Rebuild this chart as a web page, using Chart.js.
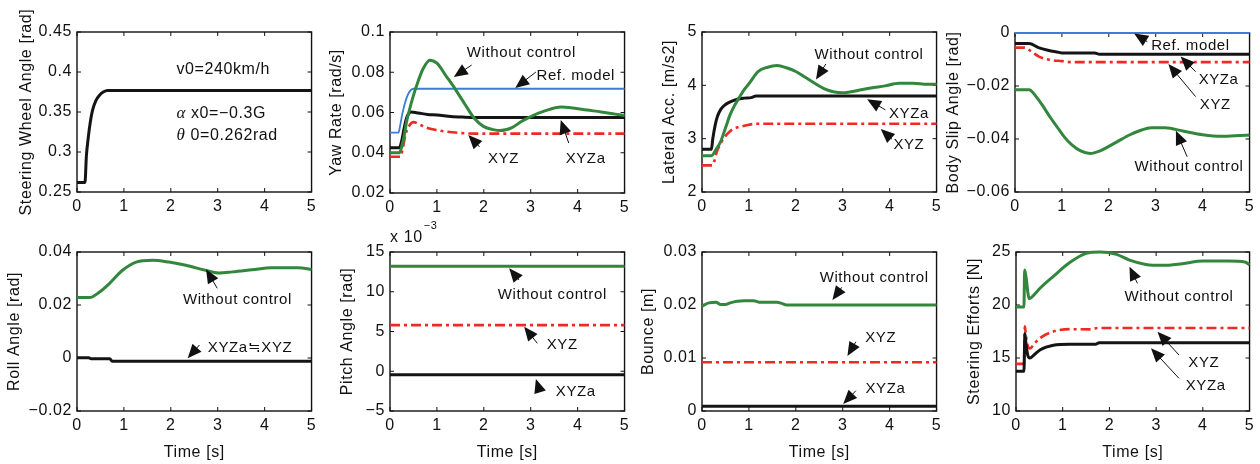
<!DOCTYPE html>
<html>
<head>
<meta charset="utf-8">
<script src="https://cdn.jsdelivr.net/npm/chart.js@4.4.1/dist/chart.umd.min.js"></script>
<style>
  body { margin: 0; background: #fff; width: 1260px; height: 464px; position: relative; overflow: hidden; }
</style>
</head>
<body>
<script>
// ---- data ----
const timeTicks = [0, 1, 2, 3, 4, 5];
const timeLabels = ['0', '1', '2', '3', '4', '5'];

// steering wheel angle [rad]
const swT = [0, 0.17, 0.2, 0.24, 0.28, 0.33, 0.4, 0.48, 0.56, 0.65, 5];
const swAngle = [0.262, 0.262, 0.295, 0.318, 0.336, 0.352, 0.364, 0.371, 0.375, 0.377, 0.377];
const swTicks = [0.25, 0.3, 0.35, 0.4, 0.45];
const swLabels = ['0.25', '0.3', '0.35', '0.4', '0.45'];

// yaw rate [rad/s]
const yawT_wo = [0, 0.2, 0.25, 0.3, 0.35, 0.4, 0.5, 0.6, 0.7, 0.85, 1.0, 1.2, 1.38, 1.6, 1.8, 2.0, 2.2, 2.35, 2.6, 2.8, 3.0, 3.3, 3.65, 3.9, 4.2, 4.5, 4.8, 5.0];
const yaw_wo = [0.040, 0.040, 0.043, 0.048, 0.055, 0.060, 0.0685, 0.0755, 0.0815, 0.0860, 0.0845, 0.078, 0.072, 0.064, 0.057, 0.053, 0.0515, 0.051, 0.0525, 0.0555, 0.058, 0.0608, 0.0627, 0.0622, 0.0612, 0.0603, 0.0592, 0.0585];
const yawT_ref = [0, 0.18, 0.22, 0.26, 0.3, 0.35, 0.42, 0.5, 5];
const yaw_ref = [0.050, 0.050, 0.054, 0.059, 0.063, 0.067, 0.0705, 0.0718, 0.0718];
const yawT_xyza = [0, 0.2, 0.25, 0.3, 0.35, 0.4, 0.45, 0.6, 0.8, 1.0, 1.3, 1.6, 2.0, 5];
const yaw_xyza = [0.0425, 0.0425, 0.046, 0.052, 0.057, 0.0595, 0.0602, 0.0598, 0.059, 0.0588, 0.058, 0.0577, 0.0575, 0.0575];
const yawT_xyz = [0, 0.22, 0.28, 0.33, 0.4, 0.5, 0.65, 0.8, 1.0, 1.2, 1.5, 1.8, 5];
const yaw_xyz = [0.038, 0.038, 0.043, 0.049, 0.053, 0.0552, 0.0538, 0.0523, 0.0512, 0.0505, 0.0498, 0.0495, 0.0495];
const yawTicks = [0.02, 0.04, 0.06, 0.08, 0.1];
const yawLabels = ['0.02', '0.04', '0.06', '0.08', '0.1'];

// lateral acceleration [m/s2]
const latT_wo = [0, 0.2, 0.3, 0.4, 0.5, 0.6, 0.7, 0.8, 0.9, 1.0, 1.2, 1.4, 1.6, 1.8, 2.0, 2.2, 2.4, 2.6, 2.8, 3.0, 3.3, 3.6, 3.9, 4.2, 4.5, 4.8, 5.0];
const lat_wo = [2.68, 2.68, 2.8, 2.95, 3.2, 3.45, 3.63, 3.78, 3.92, 4.03, 4.26, 4.34, 4.37, 4.33, 4.26, 4.15, 4.04, 3.94, 3.88, 3.86, 3.9, 3.95, 3.99, 4.04, 4.04, 4.02, 4.02];
const latT_xyza = [0, 0.2, 0.23, 0.28, 0.33, 0.4, 0.5, 0.6, 0.75, 0.9, 1.05, 1.15, 5];
const lat_xyza = [2.8, 2.8, 3.0, 3.25, 3.42, 3.55, 3.64, 3.69, 3.74, 3.76, 3.77, 3.8, 3.8];
const latT_xyz = [0, 0.22, 0.27, 0.31, 0.38, 0.45, 0.55, 0.66, 0.8, 0.95, 1.15, 5];
const lat_xyz = [2.5, 2.5, 2.6, 2.74, 2.88, 2.99, 3.1, 3.18, 3.22, 3.25, 3.28, 3.28];
const latTicks = [2, 3, 4, 5];
const latLabels = ['2', '3', '4', '5'];

// body slip angle [rad]
const slipT_ref = [0, 5];
const slip_ref = [0, 0];
const slipT_xyza = [0, 0.3, 0.5, 0.7, 0.9, 1.0, 1.7, 1.8, 5];
const slip_xyza = [-0.004, -0.004, -0.0055, -0.0065, -0.0072, -0.0075, -0.0075, -0.008, -0.008];
const slipT_xyz = [0, 0.2, 0.35, 0.5, 0.65, 0.8, 1.0, 1.2, 5];
const slip_xyz = [-0.0055, -0.0055, -0.007, -0.0088, -0.0098, -0.0103, -0.0106, -0.011, -0.011];
const slipT_wo = [0, 0.3, 0.45, 0.6, 0.75, 0.9, 1.05, 1.2, 1.4, 1.6, 1.8, 2.0, 2.2, 2.45, 2.7, 2.9, 3.2, 3.6, 4.0, 4.4, 4.8, 5];
const slip_wo = [-0.0214, -0.0214, -0.024, -0.0277, -0.0318, -0.0355, -0.0392, -0.042, -0.0445, -0.0455, -0.0446, -0.0428, -0.0408, -0.0384, -0.0366, -0.0358, -0.0358, -0.0371, -0.0384, -0.039, -0.0387, -0.0385];
const slipTicks = [-0.06, -0.04, -0.02, 0];
const slipLabels = ['−0.06', '−0.04', '−0.02', '0'];

// roll angle [rad]
const rollT_wo = [0, 0.27, 0.48, 0.69, 0.97, 1.26, 1.61, 1.96, 2.32, 2.74, 3.02, 3.31, 3.73, 4.15, 4.72, 5];
const roll_wo = [0.0228, 0.0228, 0.0249, 0.0281, 0.0331, 0.0362, 0.0369, 0.0362, 0.035, 0.0331, 0.0321, 0.0325, 0.0333, 0.0341, 0.0341, 0.0334];
const rollT_xyz = [0, 0.25, 0.3, 0.7, 0.75, 5];
const roll_xyz = [0.0001, 0.0001, -0.0003, -0.0003, -0.0012, -0.0012];
const rollTicks = [-0.02, 0, 0.02, 0.04];
const rollLabels = ['−0.02', '0', '0.02', '0.04'];

// pitch angle [x1e-3 rad]
const pitchT = [0, 5];
const pitch_wo = [13.2, 13.2];
const pitch_xyz = [5.8, 5.8];
const pitch_xyza = [-0.45, -0.45];
const pitchTicks = [-5, 0, 5, 10, 15];
const pitchLabels = ['−5', '0', '5', '10', '15'];

// bounce [m]
const bounceT_wo = [0, 0.15, 0.3, 0.4, 0.5, 0.6, 0.75, 0.9, 1.1, 1.25, 1.4, 1.6, 1.7, 1.8, 5];
const bounce_wo = [0.0198, 0.0204, 0.0205, 0.0201, 0.0201, 0.0204, 0.0207, 0.0208, 0.0208, 0.0205, 0.0205, 0.0205, 0.0203, 0.0200, 0.0200];
const bounceT = [0, 5];
const bounce_xyz = [0.0092, 0.0092];
const bounce_xyza = [0.0009, 0.0009];
const bounceTicks = [0, 0.01, 0.02, 0.03];
const bounceLabels = ['0', '0.01', '0.02', '0.03'];

// steering efforts [N]
const effT_wo = [0, 0.17, 0.185, 0.2, 0.22, 0.25, 0.28, 0.35, 0.52, 0.8, 1.15, 1.5, 1.8, 2.15, 2.43, 2.78, 3.14, 3.56, 4.0, 4.55, 4.9, 5.0];
const eff_wo = [19.8, 19.8, 23.3, 23.0, 22.5, 21.3, 20.6, 20.8, 21.6, 22.7, 24.0, 24.87, 25.0, 24.78, 24.24, 23.83, 23.74, 23.9, 24.15, 24.15, 24.05, 23.8];
const effT_xyz = [0, 0.17, 0.19, 0.21, 0.25, 0.3, 0.4, 0.52, 0.8, 1.15, 1.6, 1.75, 5];
const eff_xyz = [14.45, 14.45, 18.0, 17.2, 16.2, 15.9, 16.4, 16.9, 17.5, 17.72, 17.7, 17.83, 17.83];
const effT_xyza = [0, 0.17, 0.19, 0.21, 0.25, 0.3, 0.4, 0.52, 0.8, 1.15, 1.7, 1.78, 5];
const eff_xyza = [13.75, 13.75, 17.3, 16.5, 15.3, 15.0, 15.35, 15.78, 16.2, 16.3, 16.3, 16.45, 16.45];
const effTicks = [10, 15, 20, 25];
const effLabels = ['10', '15', '20', '25'];

// ---- styles ----
const GREEN = '#32873d', RED = '#ee2a24', BLUE = '#3a7fd5', BLACK = '#141414';
const DASHDOT = [10, 4, 3, 4];
const green = (t, v) => ({ t, v, color: GREEN, w: 3 });
const black = (t, v) => ({ t, v, color: BLACK, w: 3 });
const red = (t, v) => ({ t, v, color: RED, w: 2.6, dash: DASHDOT });
const blue = (t, v) => ({ t, v, color: BLUE, w: 1.8 });

Chart.defaults.font.family = '"Liberation Sans", Arial, "Noto Sans CJK JP", sans-serif';
Chart.defaults.font.size = 16;
Chart.defaults.color = '#111';

const panels = [
  { row: 0, box: [77, 32, 313, 192], titleX: 27, yTitle: 'Steering Wheel Angle [rad]',
    yTicks: swTicks, yLabels: swLabels,
    series: [black(swT, swAngle)],
    texts: [
      { x: 2.12, y: 0.4025, parts: [['v0=240km/h', '']] },
      { x: 2.12, y: 0.3475, parts: [['α', 'italic '], [' x0=−0.3G', '']] },
      { x: 2.12, y: 0.320, parts: [['θ', 'italic '], [' 0=0.262rad', '']] }
    ], notes: [] },
  { row: 0, box: [390, 32, 626, 193], titleX: 337, yTitle: 'Yaw Rate [rad/s]',
    yTicks: yawTicks, yLabels: yawLabels,
    series: [green(yawT_wo, yaw_wo), black(yawT_xyza, yaw_xyza), red(yawT_xyz, yaw_xyz), blue(yawT_ref, yaw_ref)],
    notes: [
      { text: 'Without control', x: 2.80, y: 0.0896, tail: [1.74, 0.0836], tip: [1.36, 0.0776] },
      { text: 'Ref. model', x: 3.96, y: 0.0781, tail: [3.11, 0.0801], tip: [2.67, 0.0722] },
      { text: 'XYZ', x: 2.42, y: 0.0369, tail: [1.91, 0.0429], tip: [1.67, 0.0488] },
      { text: 'XYZa', x: 4.17, y: 0.0369, tail: [3.81, 0.0448], tip: [3.64, 0.0563] }
    ] },
  { row: 0, box: [702, 32, 938, 192], titleX: 670, yTitle: 'Lateral Acc. [m/s2]',
    yTicks: latTicks, yLabels: latLabels,
    series: [green(latT_wo, lat_wo), black(latT_xyza, lat_xyza), red(latT_xyz, lat_xyz)],
    notes: [
      { text: 'Without control', x: 3.56, y: 4.57, tail: [2.64, 4.40], tip: [2.43, 4.11] },
      { text: 'XYZa', x: 4.41, y: 3.46, tail: [3.91, 3.54], tip: [3.52, 3.74] },
      { text: 'XYZ', x: 4.41, y: 2.89, tail: [4.05, 2.99], tip: [3.81, 3.18] }
    ] },
  { row: 0, box: [1015, 33, 1251, 192], titleX: 954, yTitle: 'Body Slip Angle [rad]',
    yTicks: slipTicks, yLabels: slipLabels,
    series: [green(slipT_wo, slip_wo), black(slipT_xyza, slip_xyza), red(slipT_xyz, slip_xyz), blue(slipT_ref, slip_ref)],
    notes: [
      { text: 'Ref. model', x: 3.74, y: -0.0048, tail: [2.82, -0.0033], tip: [2.54, -0.0002] },
      { text: 'XYZa', x: 4.34, y: -0.0177, tail: [3.85, -0.0146], tip: [3.53, -0.0089] },
      { text: 'XYZ', x: 4.27, y: -0.0272, tail: [3.85, -0.024], tip: [3.27, -0.0117] },
      { text: 'Without control', x: 3.71, y: -0.0505, tail: [3.67, -0.0467], tip: [3.43, -0.0369] }
    ] },
  { row: 1, box: [77, 252, 313, 411], titleX: 15, yTitle: 'Roll Angle [rad]',
    yTicks: rollTicks, yLabels: rollLabels,
    series: [green(rollT_wo, roll_wo), black(rollT_xyz, roll_xyz)],
    notes: [
      { text: 'Without control', x: 3.42, y: 0.0219, tail: [2.99, 0.0263], tip: [2.75, 0.0335] },
      { text: 'XYZa≒XYZ', x: 3.69, y: 0.0037, tail: [2.61, 0.0049], tip: [2.36, -0.0001] }
    ] },
  { row: 1, box: [390, 252, 626, 411], titleX: 348, yTitle: 'Pitch Angle [rad]',
    yTicks: pitchTicks, yLabels: pitchLabels, exponent: '−3',
    series: [green(pitchT, pitch_wo), black(pitchT, pitch_xyza), red(pitchT, pitch_xyz)],
    notes: [
      { text: 'Without control', x: 3.46, y: 9.59, tail: [2.75, 11.48], tip: [2.54, 12.95] },
      { text: 'XYZ', x: 3.67, y: 3.30, tail: [3.14, 3.52], tip: [2.86, 5.6] },
      { text: 'XYZa', x: 3.96, y: -2.6, tail: [3.18, -2.27], tip: [3.11, -0.97] }
    ] },
  { row: 1, box: [702, 252, 938, 411], titleX: 649, yTitle: 'Bounce [m]',
    yTicks: bounceTicks, yLabels: bounceLabels,
    series: [green(bounceT_wo, bounce_wo), black(bounceT, bounce_xyza), red(bounceT, bounce_xyz)],
    notes: [
      { text: 'Without control', x: 3.67, y: 0.02504, tail: [2.98, 0.02334], tip: [2.78, 0.02094] },
      { text: 'XYZ', x: 3.81, y: 0.01371, tail: [3.28, 0.01308], tip: [3.10, 0.01038] },
      { text: 'XYZa', x: 3.91, y: 0.00409, tail: [3.28, 0.00383], tip: [3.01, 0.00132] }
    ] },
  { row: 1, box: [1016, 252, 1251, 411], titleX: 975, yTitle: 'Steering Efforts [N]',
    yTicks: effTicks, yLabels: effLabels,
    series: [green(effT_wo, eff_wo), black(effT_xyza, eff_xyza), red(effT_xyz, eff_xyz)],
    notes: [
      { text: 'Without control', x: 3.49, y: 20.78, tail: [2.60, 22.04], tip: [2.43, 23.62] },
      { text: 'XYZ', x: 4.02, y: 14.5, tail: [3.49, 15.28], tip: [3.03, 17.48] },
      { text: 'XYZa', x: 4.06, y: 12.36, tail: [3.49, 13.08], tip: [2.89, 15.92] }
    ] }
];

const FONT = '"Liberation Sans", Arial, "Noto Sans CJK JP", sans-serif';

function drawArrow(ctx, x1, y1, x2, y2) {
  const a = Math.atan2(y2 - y1, x2 - x1), L = 14, W = 6;
  const c = Math.cos(a), s = Math.sin(a);
  ctx.beginPath();
  ctx.moveTo(x1, y1);
  ctx.lineTo(x2 - L * 0.6 * c, y2 - L * 0.6 * s);
  ctx.stroke();
  ctx.beginPath();
  ctx.moveTo(x2, y2);
  ctx.lineTo(x2 - L * c + W * s, y2 - L * s - W * c);
  ctx.lineTo(x2 - L * c - W * s, y2 - L * s + W * c);
  ctx.closePath();
  ctx.fill();
}

// box and inward ticks under the lines, labels and arrows on top
function framePlugin(p) {
  return {
    id: 'frame',
    beforeDraw(chart) { chart.ctx.letterSpacing = '0.6px'; },
    beforeDatasetsDraw(chart) {
      const { ctx, chartArea: a, scales: { x, y } } = chart;
      ctx.save();
      ctx.strokeStyle = '#111';
      ctx.lineWidth = 1.4;
      ctx.strokeRect(a.left, a.top, a.right - a.left, a.bottom - a.top);
      ctx.lineWidth = 1;
      ctx.beginPath();
      x.ticks.forEach(tk => {
        const px = x.getPixelForValue(tk.value);
        ctx.moveTo(px, a.bottom); ctx.lineTo(px, a.bottom - 4);
        ctx.moveTo(px, a.top); ctx.lineTo(px, a.top + 4);
      });
      y.ticks.forEach(tk => {
        const py = y.getPixelForValue(tk.value);
        ctx.moveTo(a.left, py); ctx.lineTo(a.left + 4, py);
        ctx.moveTo(a.right, py); ctx.lineTo(a.right - 4, py);
      });
      ctx.stroke();
      ctx.restore();
    },
    afterDatasetsDraw(chart) {
      const { ctx, chartArea: a, scales: { x, y } } = chart;
      ctx.save();
      ctx.fillStyle = '#111';
      ctx.strokeStyle = '#111';
      ctx.lineWidth = 1;
      ctx.textBaseline = 'middle';
      ctx.letterSpacing = '0.6px';
      ctx.font = '15px ' + FONT;
      ctx.textAlign = 'center';
      (p.notes || []).forEach(n => {
        ctx.fillText(n.text, x.getPixelForValue(n.x), y.getPixelForValue(n.y));
        drawArrow(ctx, x.getPixelForValue(n.tail[0]), y.getPixelForValue(n.tail[1]),
          x.getPixelForValue(n.tip[0]), y.getPixelForValue(n.tip[1]));
      });
      ctx.textAlign = 'left';
      (p.texts || []).forEach(tx => {
        let px = x.getPixelForValue(tx.x);
        const py = y.getPixelForValue(tx.y);
        tx.parts.forEach(([s, style]) => {
          ctx.font = style ? 'italic 17px "Liberation Serif", serif' : '16px ' + FONT;
          ctx.fillText(s, px, py);
          px += ctx.measureText(s).width;
        });
      });
      if (p.exponent) {
        ctx.font = '16px ' + FONT;
        ctx.fillText('x 10', a.left, a.top - 14);
        const w = ctx.measureText('x 10').width;
        ctx.font = '11px ' + FONT;
        ctx.fillText(p.exponent, a.left + w + 1, a.top - 26);
      }
      ctx.restore();
    }
  };
}

function addPanel(p) {
  const [l, t, r, b] = p.box;
  const top = p.row === 0 ? 0 : 214;
  const bottom = p.row === 0 ? 232 : 464;
  const left = Math.round(p.titleX - 9.6);
  const right = r + 8;
  const cv = document.createElement('canvas');
  cv.width = right - left;
  cv.height = bottom - top;
  cv.style.cssText = `position:absolute;left:${left}px;top:${top}px;width:${right - left}px;height:${bottom - top}px`;
  document.body.appendChild(cv);

  new Chart(cv, {
    type: 'line',
    data: {
      datasets: p.series.map(s => ({
        data: s.t.map((tv, i) => ({ x: tv, y: s.v[i] })),
        borderColor: s.color,
        borderWidth: s.w,
        borderDash: s.dash || [],
        pointRadius: 0,
        cubicInterpolationMode: 'monotone',
        fill: false,
        clip: 3
      }))
    },
    options: {
      responsive: false,
      animation: false,
      events: [],
      layout: { padding: { top: t - top, right: 8, left: 0, bottom: 0 } },
      plugins: { legend: { display: false }, tooltip: { enabled: false } },
      scales: {
        x: {
          type: 'linear', min: 0, max: 5,
          grid: { display: false, drawTicks: false },
          border: { display: false },
          afterBuildTicks: s => { s.ticks = timeTicks.map(v => ({ value: v })); },
          afterFit: s => { s.height = bottom - b; },
          ticks: { padding: 5, maxRotation: 0, autoSkip: false, color: '#111',
            callback: (v, i) => timeLabels[i] },
          title: { display: p.row === 1, text: 'Time [s]', color: '#111',
            font: { size: 16 }, padding: { top: 0, bottom: 2 } }
        },
        y: {
          type: 'linear',
          min: p.yTicks[0], max: p.yTicks[p.yTicks.length - 1],
          grid: { display: false, drawTicks: false },
          border: { display: false },
          afterBuildTicks: s => { s.ticks = p.yTicks.map(v => ({ value: v })); },
          afterFit: s => { s.width = l - left; },
          ticks: { padding: 5, autoSkip: false, color: '#111',
            callback: (v, i) => p.yLabels[i] },
          title: { display: true, text: p.yTitle, color: '#111',
            font: { size: 16 }, padding: { top: 0, bottom: 0 } }
        }
      }
    },
    plugins: [framePlugin(p)]
  });
}

panels.forEach(addPanel);
</script>
</body>
</html>
